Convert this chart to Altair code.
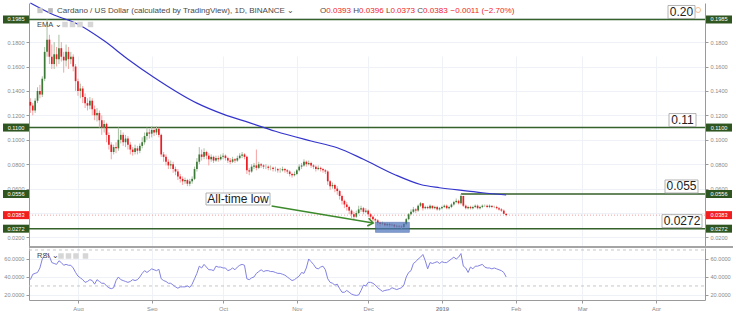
import altair as alt
import pandas as pd

FONT = "Liberation Sans"

# ---------------- data ----------------
start_date = "2018-07-12"
first_open = 0.131
closes = [
    0.128, 0.124, 0.132, 0.140, 0.137, 0.150, 0.172, 0.182, 0.168, 0.162,
    0.170, 0.166, 0.175, 0.168, 0.165, 0.172, 0.166, 0.168, 0.160, 0.148,
    0.140, 0.142, 0.135, 0.130, 0.128, 0.132, 0.125, 0.120, 0.122, 0.116,
    0.110, 0.113, 0.104, 0.096, 0.090, 0.094, 0.093, 0.100, 0.104, 0.098,
    0.101, 0.096, 0.092, 0.090, 0.093, 0.091, 0.095, 0.098, 0.103, 0.106,
    0.105, 0.108, 0.106, 0.109, 0.104, 0.088, 0.086, 0.082, 0.079, 0.080,
    0.076, 0.074, 0.070, 0.068, 0.066, 0.067, 0.064, 0.066, 0.068, 0.076,
    0.082, 0.088, 0.086, 0.090, 0.087, 0.084, 0.086, 0.083, 0.085, 0.084,
    0.086, 0.087, 0.085, 0.083, 0.082, 0.084, 0.083, 0.085, 0.087, 0.088,
    0.086, 0.075, 0.074, 0.078, 0.079, 0.077, 0.080, 0.079, 0.078, 0.078,
    0.077, 0.077, 0.076, 0.076, 0.075, 0.075, 0.076, 0.075, 0.074, 0.072,
    0.071, 0.072, 0.075, 0.078, 0.079, 0.082, 0.080, 0.081, 0.079, 0.078,
    0.076, 0.077, 0.076, 0.075, 0.074, 0.066, 0.062, 0.063, 0.060, 0.058,
    0.054, 0.050, 0.047, 0.045, 0.042, 0.039, 0.037, 0.040, 0.043, 0.044,
    0.041, 0.042, 0.039, 0.037, 0.035, 0.034, 0.032, 0.031, 0.0315, 0.030,
    0.031, 0.030, 0.0305, 0.029, 0.0295, 0.029, 0.0285, 0.031, 0.035, 0.039,
    0.041, 0.043, 0.042, 0.046, 0.048, 0.044, 0.045, 0.044, 0.046, 0.044,
    0.045, 0.043, 0.044, 0.045, 0.046, 0.044, 0.045, 0.047, 0.049, 0.050,
    0.048, 0.054, 0.046, 0.044, 0.045, 0.044, 0.045, 0.046, 0.044, 0.045,
    0.046, 0.046, 0.045, 0.046, 0.045, 0.045, 0.044, 0.043, 0.042, 0.0394,
    0.0383,
]
highs = [
    0.134, 0.130, 0.134, 0.143, 0.145, 0.152, 0.176, 0.1985, 0.186, 0.178,
    0.180, 0.176, 0.186, 0.180, 0.172, 0.178, 0.176, 0.172, 0.170, 0.162,
    0.150, 0.146, 0.144, 0.138, 0.134, 0.135, 0.134, 0.128, 0.126, 0.124,
    0.120, 0.116, 0.114, 0.106, 0.098, 0.096, 0.098, 0.110, 0.108, 0.106,
    0.104, 0.103, 0.098, 0.094, 0.096, 0.095, 0.097, 0.102, 0.106, 0.110,
    0.109, 0.111, 0.110, 0.111, 0.110, 0.105, 0.090, 0.088, 0.084, 0.083,
    0.082, 0.078, 0.076, 0.072, 0.070, 0.069, 0.068, 0.068, 0.070, 0.078,
    0.085, 0.094, 0.092, 0.093, 0.091, 0.089, 0.088, 0.087, 0.087, 0.087,
    0.088, 0.089, 0.088, 0.086, 0.085, 0.086, 0.085, 0.087, 0.089, 0.090,
    0.089, 0.087, 0.077, 0.080, 0.081, 0.092, 0.082, 0.081, 0.080, 0.080,
    0.079, 0.079, 0.078, 0.078, 0.077, 0.077, 0.078, 0.077, 0.076, 0.075,
    0.073, 0.074, 0.076, 0.080, 0.081, 0.084, 0.083, 0.083, 0.082, 0.080,
    0.079, 0.079, 0.078, 0.077, 0.076, 0.075, 0.067, 0.065, 0.064, 0.062,
    0.059, 0.055, 0.051, 0.049, 0.046, 0.043, 0.041, 0.042, 0.046, 0.046,
    0.045, 0.044, 0.043, 0.040, 0.038, 0.036, 0.035, 0.033, 0.033, 0.032,
    0.032, 0.032, 0.0315, 0.031, 0.0305, 0.030, 0.030, 0.032, 0.036, 0.040,
    0.043, 0.045, 0.044, 0.047, 0.049, 0.048, 0.046, 0.046, 0.047, 0.046,
    0.046, 0.046, 0.045, 0.046, 0.047, 0.047, 0.046, 0.048, 0.050, 0.052,
    0.051, 0.0556, 0.054, 0.047, 0.046, 0.046, 0.046, 0.047, 0.047, 0.046,
    0.047, 0.047, 0.047, 0.047, 0.046, 0.046, 0.046, 0.045, 0.044, 0.043,
    0.0396,
]
lows = [
    0.122, 0.120, 0.122, 0.130, 0.134, 0.135, 0.148, 0.168, 0.162, 0.158,
    0.158, 0.160, 0.162, 0.164, 0.155, 0.160, 0.158, 0.162, 0.156, 0.140,
    0.136, 0.134, 0.130, 0.126, 0.124, 0.125, 0.120, 0.116, 0.115, 0.110,
    0.104, 0.106, 0.098, 0.092, 0.084, 0.088, 0.089, 0.091, 0.097, 0.095,
    0.094, 0.092, 0.088, 0.087, 0.088, 0.088, 0.089, 0.093, 0.096, 0.100,
    0.101, 0.102, 0.103, 0.104, 0.102, 0.086, 0.082, 0.079, 0.076, 0.076,
    0.073, 0.071, 0.067, 0.065, 0.063, 0.064, 0.062, 0.062, 0.064, 0.067,
    0.074, 0.080, 0.083, 0.084, 0.084, 0.079, 0.082, 0.081, 0.082, 0.082,
    0.083, 0.084, 0.083, 0.081, 0.080, 0.081, 0.081, 0.082, 0.084, 0.085,
    0.084, 0.072, 0.071, 0.073, 0.076, 0.075, 0.076, 0.077, 0.076, 0.076,
    0.075, 0.075, 0.074, 0.074, 0.073, 0.073, 0.074, 0.073, 0.072, 0.070,
    0.069, 0.070, 0.071, 0.074, 0.076, 0.078, 0.078, 0.079, 0.077, 0.076,
    0.074, 0.075, 0.074, 0.073, 0.072, 0.063, 0.059, 0.060, 0.057, 0.055,
    0.051, 0.047, 0.044, 0.042, 0.039, 0.036, 0.035, 0.036, 0.039, 0.041,
    0.039, 0.040, 0.037, 0.035, 0.033, 0.032, 0.030, 0.029, 0.030, 0.029,
    0.029, 0.0285, 0.029, 0.028, 0.028, 0.0278, 0.0272, 0.028, 0.030, 0.034,
    0.038, 0.040, 0.040, 0.041, 0.045, 0.042, 0.043, 0.043, 0.043, 0.043,
    0.043, 0.042, 0.042, 0.043, 0.044, 0.043, 0.043, 0.044, 0.046, 0.048,
    0.047, 0.047, 0.045, 0.043, 0.043, 0.043, 0.043, 0.044, 0.043, 0.043,
    0.044, 0.045, 0.044, 0.044, 0.044, 0.044, 0.043, 0.042, 0.041, 0.039,
    0.0373,
]
rsi = [
    37, 43, 44, 45, 50, 60, 64, 66, 63, 56,
    55, 54, 58, 56, 53, 54, 53, 53, 50, 45,
    41, 39, 37, 34, 35, 37, 36, 32, 37, 35,
    33, 33, 30, 28, 27, 28, 36, 40, 37, 36,
    35, 34, 35, 37, 36, 37, 40, 44, 47, 45,
    47, 49, 48, 47, 48.5, 38, 36, 35, 33, 33,
    31, 29, 27.5, 29, 29, 29, 30, 28.5, 32, 38,
    44, 52, 50, 54, 51, 48, 48, 47, 52, 51,
    51, 50, 50, 47, 48, 50, 48, 51, 53, 54,
    53, 38, 37, 39, 40, 44, 46, 48, 46, 47,
    47, 46, 46, 45, 44, 44, 43, 42, 40, 38,
    36, 37, 39, 41, 45, 44, 50, 60, 57, 54,
    50, 49, 51, 52, 48, 38, 34, 33, 31, 32,
    27, 23, 23, 25, 23, 21, 20, 19.5, 20, 25,
    31, 30, 34, 34, 33, 31, 28, 26, 24, 25,
    25.5, 26, 28, 27, 26, 27, 28, 31, 40, 45,
    47, 55, 57, 60, 62, 65, 58, 49, 56, 55,
    56, 57, 55, 57, 56, 56, 58, 60, 62, 60,
    62, 66, 52, 50, 45, 51, 49, 52, 52, 53,
    54, 51, 50, 50, 49, 50, 49, 48, 47, 45,
    40,
]
ema_idx = [0, 9, 20, 31, 41, 52, 70, 81, 92, 103, 118, 129, 140, 153, 164, 172, 184, 190, 200]
ema_val = [0.212, 0.203, 0.1946, 0.181, 0.166, 0.151, 0.130, 0.121, 0.114, 0.107,
           0.099, 0.0935, 0.084, 0.0716, 0.0634, 0.0607, 0.058, 0.0566, 0.0548]

levels = [0.1985, 0.1100, 0.0556, 0.0272]
level_labels = ["0.20", "0.11", "0.055", "0.0272"]
level_055_start = 181          # candle index where the 0.055 line starts
last_price = 0.0383
price_ticks = [0.02, 0.04, 0.06, 0.08, 0.10, 0.12, 0.14, 0.16, 0.18, 0.20]
rsi_ticks = [20, 40, 60]
rsi_bands = [70, 30]
box_x = ["2018-12-04T02:00:00", "2018-12-18T07:00:00"]
box_y = [0.0242, 0.0324]
arrow_x = ["2018-10-21T10:00:00", "2018-12-03T02:00:00"]
arrow_y = [0.0458, 0.0318]
title_text = "Cardano / US Dollar (calculated by TradingView), 1D, BINANCE \u2304"
ohlc_letters = ["O", "H", "L", "C"]
ohlc_values = ["0.0393", "0.0396", "0.0373", "0.0383"]
change_text = "\u22120.0011 (\u22122.70%)"
month_starts = [(2018, 8), (2018, 9), (2018, 10), (2018, 11), (2018, 12),
                (2019, 1), (2019, 2), (2019, 3), (2019, 4)]

# ---------------- styling ----------------
W, H = 676, 297
HDR = 8.05
UP_BODY, UP_WICK = "#3b7a36", "#a9bfa4"
DN_BODY, DN_WICK = "#ec1c24", "#f4a3a3"
LVL_GREEN = "#35612a"
LBL_GREEN = "#2f5620"
RED = "#f01e1e"
EMA_C = "#3434cc"
RSI_C = "#8282e2"
GRID = "#eef1f5"
AX = "#9a9a9a"
LBL = "#8a8a8a"

dates = pd.date_range(start_date, periods=len(closes), freq="D")
opens = [first_open] + closes[:-1]
df = pd.DataFrame({"date": dates, "open": opens, "high": highs, "low": lows, "close": closes})
ema_df = pd.DataFrame({"date": dates[ema_idx], "ema": ema_val})
rsi_df = pd.DataFrame({"date": dates, "rsi": rsi})
one = pd.DataFrame({"k": [0]})

xscale = alt.Scale(domain=[alt.DateTime(year=2018, month=7, date=11, hours=10),
                           alt.DateTime(year=2019, month=4, date=21, hours=14)])
xaxis = alt.Axis(
    title=None,
    values=[alt.DateTime(year=y, month=m, date=1) for y, m in month_starts],
    labelExpr="month(datum.value) == 0 ? timeFormat(datum.value, '%Y') : timeFormat(datum.value, '%b')",
    labelFontWeight={"condition": {"test": "month(datum.value) == 0", "value": "bold"}, "value": "normal"},
    grid=True, gridColor=GRID, domainColor=AX, tickColor=AX, tickSize=3,
    labelFontSize=5.8, labelColor=LBL, labelPadding=2, labelOverlap=False,
)


def X(f):
    return alt.X(f, type="temporal", scale=xscale, axis=xaxis)


pscale = alt.Scale(domain=[0.0122, 0.2120], range=[244, 0], nice=False, zero=False)
rscale = alt.Scale(domain=[14.4, 72.2], range=[297, 245], nice=False, zero=False)


def yaxis(orient, values, grid):
    return alt.Axis(orient=orient, title=None, values=values, format=".4f", grid=grid,
                    gridColor=GRID, domainColor=AX, tickColor=AX, tickSize=3,
                    labelPadding=2, labelFontSize=5.6, labelColor=LBL, labelOverlap=False)


paxis = yaxis("left", price_ticks, True)
raxis = yaxis("left", rsi_ticks, True)


def PY(f):
    return alt.Y(f, type="quantitative", scale=pscale, axis=paxis)


def RY(f):
    return alt.Y(f, type="quantitative", scale=rscale, axis=raxis)


def px_text(txt, x, y, size=HDR, color="#4a4a4a", align="left", weight="normal"):
    return alt.Chart(one).mark_text(text=txt, align=align, baseline="middle", fontSize=size,
                                    color=color, fontWeight=weight).encode(
        x=alt.value(x), y=alt.value(y))


def px_square(x, y, color="#d6d6d6", size=30):
    return alt.Chart(one).mark_square(size=size, color=color, opacity=1).encode(
        x=alt.value(x), y=alt.value(y))


# ---------------- price pane ----------------
base = alt.Chart(df)
wick_c = alt.condition("datum.close >= datum.open", alt.value(UP_WICK), alt.value(DN_WICK))
body_c = alt.condition("datum.close >= datum.open", alt.value(UP_BODY), alt.value(DN_BODY))
wicks = base.mark_rule(strokeWidth=1).encode(x=X("date"), y=PY("low"), y2=alt.Y2("high"), color=wick_c)
bodies = base.mark_rule(strokeWidth=1.7).encode(x=X("date"), y=PY("open"), y2=alt.Y2("close"), color=body_c)

ema = alt.Chart(ema_df).mark_line(color=EMA_C, strokeWidth=1.2, interpolate="monotone").encode(
    x=X("date"), y=PY("ema"))

full_lv = pd.DataFrame({"v": [levels[0], levels[1], levels[3]]})
lv_rules = alt.Chart(full_lv).mark_rule(color=LVL_GREEN, strokeWidth=1.6).encode(
    x=alt.value(0), x2=alt.value(W), y=PY("v"))
lv055 = alt.Chart(pd.DataFrame({"v": [levels[2]], "date": [dates[level_055_start]]})).mark_rule(
    color=LVL_GREEN, strokeWidth=1.6).encode(x=X("date"), x2=alt.value(W), y=PY("v"))
last_rule = alt.Chart(pd.DataFrame({"v": [last_price]})).mark_rule(
    color="#f3a0a0", strokeWidth=1, strokeDash=[1, 2]).encode(x=alt.value(0), x2=alt.value(W), y=PY("v"))

lab_df = pd.DataFrame({"v": levels + [last_price], "kind": ["level"] * 4 + ["last"]})
lab_color = alt.Color("kind:N", scale=alt.Scale(domain=["level", "last"], range=[LBL_GREEN, RED]), legend=None)


def side_labels(x0, x1):
    r = alt.Chart(lab_df).mark_rect(yOffset=-4, y2Offset=4).encode(
        x=alt.value(x0), x2=alt.value(x1), y=PY("v"), y2=alt.Y2("v"), color=lab_color)
    t = alt.Chart(lab_df).mark_text(color="white", fontSize=5.6, align="center", baseline="middle").encode(
        x=alt.value((x0 + x1) / 2), y=PY("v"), text=alt.Text("v:Q", format=".4f"))
    return [r, t]


callout_pos = [(639, 666), (640, 667), (636, 669), (633, 673)]
callouts = []
for lab, v, (x0, x1) in zip(level_labels, levels, callout_pos):
    d = pd.DataFrame({"v": [v]})
    callouts.append(alt.Chart(d).mark_rect(fill="white", stroke="#a0a0a0", strokeWidth=0.8,
                                           yOffset=-14, y2Offset=-1).encode(
        x=alt.value(x0), x2=alt.value(x1), y=PY("v"), y2=alt.Y2("v")))
    callouts.append(alt.Chart(d).mark_text(text=lab, fontSize=12, color="#222222", align="center",
                                           baseline="middle", yOffset=-7.5).encode(
        x=alt.value((x0 + x1) / 2), y=PY("v")))

circle = alt.Chart(one).mark_point(shape="circle", size=26, filled=False, color="#f0a868",
                                   strokeWidth=1).encode(x=alt.value(669), y=alt.value(7))

bbox = alt.Chart(pd.DataFrame({"d": [box_x[0]], "d2": [box_x[1]], "p": [box_y[0]], "p2": [box_y[1]]})).mark_rect(
    color="#4f75bd", opacity=0.72, stroke="#3f62a8", strokeWidth=0.8).encode(
    x=X("d"), x2=alt.X2("d2"), y=PY("p"), y2=alt.Y2("p2"))

arrow_df = pd.DataFrame({"date": pd.to_datetime(arrow_x), "p": arrow_y})
arrow = alt.Chart(arrow_df).mark_line(color="#3d8a2c", strokeWidth=1.6).encode(x=X("date"), y=PY("p"))
head = alt.Chart(arrow_df.tail(1)).mark_point(shape="M-1,-0.75L0,0L-1,0.75", size=110, filled=False,
                                              color="#3d8a2c", strokeWidth=1.6, angle=9.6, opacity=1).encode(
    x=X("date"), y=PY("p"))

atl_box = alt.Chart(one).mark_rect(fill="white", stroke="#a0a0a0", strokeWidth=0.8).encode(
    x=alt.value(177), x2=alt.value(241), y=alt.value(190), y2=alt.value(202))
atl_text = px_text("All-time low", 209, 196, size=12, color="#222222", align="center")

# header texts
header = [px_square(11, 7.5, "#c8c8c8", 28), px_square(21.5, 7.5, "#b8b8b8", 22),
          px_text(title_text, 28, 7.5)]
ohlc_x = [(291, 297.3), (324.2, 330), (356.9, 361.4), (388.3, 394.1)]
for letter, val, (xl, xv) in zip(ohlc_letters, ohlc_values, ohlc_x):
    header.append(px_text(letter, xl, 7.5))
    header.append(px_text(val, xv, 7.5, color=RED))
header.append(px_text(change_text, 421.5, 7.5, color=RED))

ema_legend = [px_text("EMA \u2304", 8, 21.5, size=7.5, color="#444444")]
for xx in (36, 43.5, 51, 61.5):
    ema_legend.append(px_square(xx, 21.5))

separator = alt.Chart(one).mark_rule(color="#a4a4a4", strokeWidth=2).encode(
    x=alt.value(0), x2=alt.value(704), y=alt.value(244))

price_group = alt.layer(
    lv_rules, lv055, last_rule, wicks, bodies, ema, bbox, arrow, head,
    *side_labels(-26, 0), *side_labels(677, 703),
    *callouts, circle, atl_box, atl_text, *header, *ema_legend, separator,
)

price_right = alt.Chart(pd.DataFrame({"v": price_ticks})).mark_rule(opacity=0).encode(
    y=alt.Y("v", type="quantitative", scale=pscale, axis=yaxis("right", price_ticks, False)))

# ---------------- RSI pane ----------------
rsi_line = alt.Chart(rsi_df).mark_line(color=RSI_C, strokeWidth=1).encode(x=X("date"), y=RY("rsi"))
bands = alt.Chart(pd.DataFrame({"b": rsi_bands})).mark_rule(color="#c6c6c6", strokeDash=[3, 3],
                                                             strokeWidth=1).encode(
    x=alt.value(0), x2=alt.value(W), y=RY("b"))
rsi_legend = [px_text("RSI \u2304", 8, 253, size=7.5, color="#444444")]
for xx in (32, 39.5, 47, 56.5):
    rsi_legend.append(px_square(xx, 253))
rsi_group = alt.layer(bands, rsi_line, *rsi_legend)

rsi_right = alt.Chart(pd.DataFrame({"b": rsi_ticks})).mark_rule(opacity=0).encode(
    y=alt.Y("b", type="quantitative", scale=rscale, axis=yaxis("right", rsi_ticks, False)))

chart = alt.layer(price_group, price_right, rsi_group, rsi_right).resolve_scale(
    y="independent"
).properties(
    width=W, height=H,
    padding={"left": 29, "top": 3, "right": 31, "bottom": 11},
    autosize=alt.AutoSizeParams(type="none"),
    background="white",
).configure(font=FONT).configure_view(stroke=None)

chart.save("out.html", embed_options={"renderer": "svg", "actions": False})
